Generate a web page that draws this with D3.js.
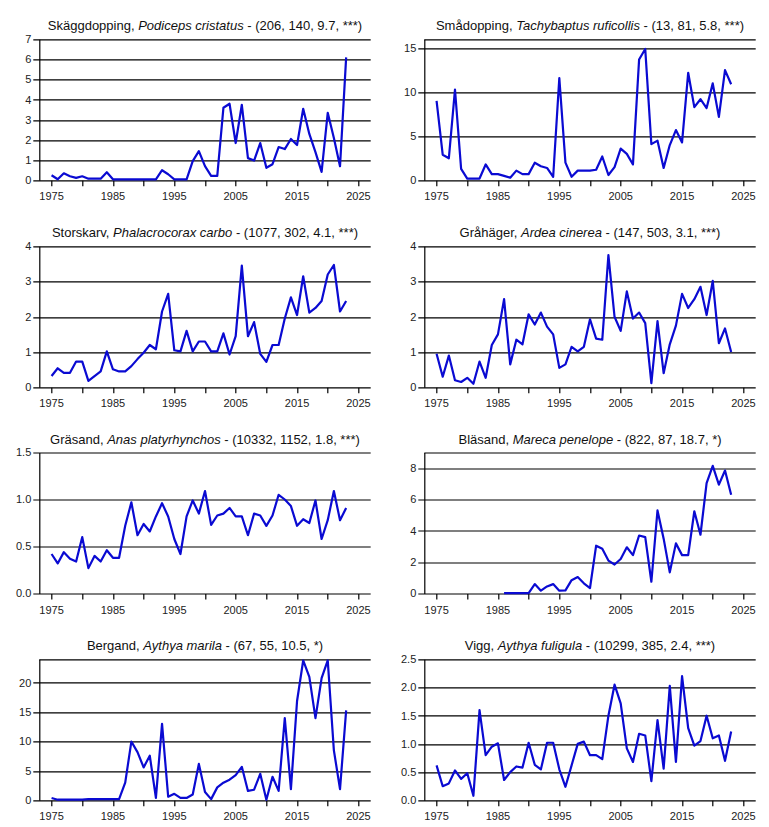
<!DOCTYPE html>
<html>
<head>
<meta charset="utf-8">
<script src="https://cdn.jsdelivr.net/npm/d3@7"></script>
<style>
  html, body { margin: 0; padding: 0; background: #fff; }
  svg { display: block; font-family: "Liberation Sans", Arial, sans-serif; }
</style>
</head>
<body>
<svg id="chart" width="769" height="827"></svg>
<script>
// ---------- data ----------
const years = d3.range(1975, 2024);

const swedishNames = ["Skäggdopping", "Smådopping", "Storskarv", "Gråhäger", "Gräsand", "Bläsand", "Bergand", "Vigg"];
const latinNames = ["Podiceps cristatus", "Tachybaptus ruficollis", "Phalacrocorax carbo", "Ardea cinerea",
                    "Anas platyrhynchos", "Mareca penelope", "Aythya marila", "Aythya fuligula"];
const statTexts = ["(206, 140, 9.7, ***)", "(13, 81, 5.8, ***)", "(1077, 302, 4.1, ***)", "(147, 503, 3.1, ***)",
                   "(10332, 1152, 1.8, ***)", "(822, 87, 18.7, *)", "(67, 55, 10.5, *)", "(10299, 385, 2.4, ***)"];

const yMax = [7, 16, 4, 4, 1.5, 9, 24, 2.5];
const yTicks = [
  [0, 1, 2, 3, 4, 5, 6, 7],
  [0, 5, 10, 15],
  [0, 1, 2, 3, 4],
  [0, 1, 2, 3, 4],
  [0, 0.5, 1.0, 1.5],
  [0, 2, 4, 6, 8],
  [0, 5, 10, 15, 20],
  [0, 0.5, 1.0, 1.5, 2.0, 2.5]
];
const yTickFormat = ["d", "d", "d", "d", ".1f", "d", "d", ".1f"];
const xTickLabels = [1975, 1985, 1995, 2005, 2015, 2025];
const xTickMarks = d3.range(1975, 2026, 5);

const skaggdopping = [0.25, 0.05, 0.35, 0.2, 0.12, 0.2, 0.08, 0.08, 0.08, 0.4,
  0.05, 0.05, 0.05, 0.05, 0.05, 0.05, 0.05, 0.05, 0.5, 0.3,
  0.05, 0.05, 0.05, 0.95, 1.45, 0.7, 0.22, 0.22, 3.6, 3.8,
  1.85, 3.75, 1.1, 0.98, 1.85, 0.62, 0.8, 1.65, 1.55, 2.05,
  1.75, 3.55, 2.3, 1.4, 0.42, 3.35, 2.1, 0.7, 6.1];

const smadopping = [9.0, 2.9, 2.5, 10.3, 1.3, 0.2, 0.2, 0.2, 1.8, 0.7,
  0.7, 0.5, 0.3, 1.1, 0.7, 0.7, 2.0, 1.6, 1.4, 0.4,
  11.6, 2.0, 0.4, 1.1, 1.1, 1.1, 1.2, 2.7, 0.6, 1.5,
  3.6, 3.0, 1.8, 13.7, 14.9, 4.1, 4.5, 1.4, 4.0, 5.7,
  4.3, 12.2, 8.3, 9.2, 8.2, 11.0, 7.2, 12.5, 10.9];

const storskarv = [0.32, 0.54, 0.41, 0.41, 0.73, 0.73, 0.18, 0.32, 0.45, 1.02,
  0.51, 0.45, 0.45, 0.6, 0.8, 0.98, 1.2, 1.08, 2.15, 2.65,
  1.05, 1.02, 1.6, 1.02, 1.3, 1.3, 1.02, 1.02, 1.53, 0.93,
  1.45, 3.45, 1.45, 1.85, 0.95, 0.72, 1.2, 1.2, 1.95, 2.55,
  2.05, 3.15, 2.12, 2.25, 2.45, 3.2, 3.47, 2.15, 2.45];

const grahager = [0.95, 0.3, 0.9, 0.2, 0.15, 0.27, 0.1, 0.73, 0.27, 1.2,
  1.5, 2.5, 0.65, 1.35, 1.22, 2.07, 1.78, 2.12, 1.72, 1.5,
  0.55, 0.65, 1.15, 1.02, 1.15, 1.93, 1.38, 1.35, 3.75, 2.0,
  1.6, 2.72, 1.95, 2.12, 1.82, 0.12, 1.88, 0.4, 1.22, 1.75,
  2.65, 2.25, 2.5, 2.85, 2.05, 3.02, 1.25, 1.67, 1.0];

const grasand = [0.42, 0.32, 0.44, 0.37, 0.34, 0.6, 0.27, 0.4, 0.34, 0.46,
  0.38, 0.38, 0.72, 0.97, 0.62, 0.74, 0.66, 0.82, 0.96, 0.82,
  0.58, 0.42, 0.82, 0.99, 0.85, 1.09, 0.73, 0.83, 0.85, 0.91,
  0.82, 0.82, 0.62, 0.85, 0.83, 0.72, 0.83, 1.05, 1.0, 0.93,
  0.72, 0.79, 0.75, 0.99, 0.58, 0.78, 1.09, 0.78, 0.91];

const blasand = [null, null, null, null, null, null, null, null, null, null,
  null, 0.03, 0.03, 0.03, 0.03, 0.03, 0.6, 0.18, 0.45, 0.6,
  0.18, 0.2, 0.85, 1.05, 0.65, 0.35, 3.05, 2.85, 2.1, 1.85,
  2.2, 2.95, 2.45, 3.7, 3.6, 0.75, 5.3, 3.5, 1.35, 3.2,
  2.45, 2.45, 5.25, 3.75, 7.05, 8.15, 6.95, 7.85, 6.3];

const bergand = [0.4, 0.1, 0.1, 0.1, 0.1, 0.1, 0.2, 0.2, 0.2, 0.2,
  0.2, 0.2, 3.0, 10.0, 8.2, 5.6, 7.6, 0.4, 13.0, 0.6,
  1.1, 0.4, 0.4, 1.0, 6.2, 1.4, 0.2, 2.2, 3.0, 3.5,
  4.3, 5.7, 1.6, 1.8, 4.5, 0.1, 4.0, 1.6, 14.0, 1.9,
  16.9, 23.8, 21.0, 14.0, 20.8, 23.8, 8.5, 1.9, 15.3];

const vigg = [0.62, 0.25, 0.3, 0.53, 0.38, 0.48, 0.08, 1.6, 0.8, 0.95,
  1.01, 0.36, 0.5, 0.6, 0.58, 1.02, 0.63, 0.55, 1.02, 1.02,
  0.55, 0.24, 0.62, 1.0, 1.04, 0.8, 0.8, 0.73, 1.5, 2.05,
  1.72, 0.92, 0.68, 1.18, 1.15, 0.34, 1.42, 0.56, 2.03, 0.68,
  2.2, 1.28, 0.97, 1.05, 1.5, 1.1, 1.15, 0.7, 1.22];

const seriesList = [skaggdopping, smadopping, storskarv, grahager, grasand, blasand, bergand, vigg];

// ---------- layout ----------
const svg = d3.select("#chart");
const colLeft = [39.3, 424.3];
const rowTop = [39.3, 246.3, 452.5, 659.3];
const plotW = 331.4;
const plotH = 141;
const lineColor = "#0a0ad2";

seriesList.forEach((values, i) => {
  const col = i % 2, row = Math.floor(i / 2);
  const g = svg.append("g")
    .attr("transform", `translate(${colLeft[col]},${rowTop[row]})`);

  const x = d3.scaleLinear().domain([1973, 2027]).range([0, plotW]);
  const y = d3.scaleLinear().domain([0, yMax[i]]).range([plotH, 0]);

  // horizontal gridlines (ticks) + top border
  const gridVals = yTicks[i].slice();
  if (gridVals[gridVals.length - 1] !== yMax[i]) gridVals.push(yMax[i]);
  g.selectAll("line.grid").data(gridVals).enter().append("line")
    .attr("class", "grid")
    .attr("x1", d => (yTicks[i].includes(d) ? -6 : 0))
    .attr("x2", plotW)
    .attr("y1", d => Math.round(y(d)) + 0.5)
    .attr("y2", d => Math.round(y(d)) + 0.5)
    .attr("stroke", "#000").attr("stroke-width", 1.2);

  // y axis line
  g.append("line")
    .attr("x1", 0.5).attr("x2", 0.5)
    .attr("y1", Math.round(y(yMax[i])) + 0.5).attr("y2", Math.round(y(0)) + 0.5)
    .attr("stroke", "#000").attr("stroke-width", 1.2);

  // y tick labels
  const fmt = d3.format(yTickFormat[i]);
  g.selectAll("text.ylab").data(yTicks[i]).enter().append("text")
    .attr("class", "ylab")
    .attr("x", -8)
    .attr("y", d => y(d))
    .attr("dy", "0.35em")
    .attr("text-anchor", "end")
    .attr("font-size", "11px")
    .attr("fill", "#222")
    .text(d => fmt(d));

  // x ticks
  g.selectAll("line.xtick").data(xTickMarks).enter().append("line")
    .attr("class", "xtick")
    .attr("x1", d => Math.round(x(d)) + 0.5).attr("x2", d => Math.round(x(d)) + 0.5)
    .attr("y1", Math.round(plotH) + 0.5).attr("y2", plotH + 6)
    .attr("stroke", "#000").attr("stroke-width", 1.2);

  g.selectAll("text.xlab").data(xTickLabels).enter().append("text")
    .attr("class", "xlab")
    .attr("x", d => x(d))
    .attr("y", plotH + 20)
    .attr("text-anchor", "middle")
    .attr("font-size", "11px")
    .attr("fill", "#222")
    .text(d => d);

  // data line
  const line = d3.line()
    .defined(d => d[1] !== null)
    .x(d => x(d[0]))
    .y(d => y(d[1]));
  g.append("path")
    .datum(years.map((yr, k) => [yr, values[k]]))
    .attr("d", line)
    .attr("fill", "none")
    .attr("stroke", lineColor)
    .attr("stroke-width", 2.2)
    .attr("stroke-linejoin", "round");

  // title
  const t = g.append("text")
    .attr("x", plotW / 2)
    .attr("y", -9)
    .attr("text-anchor", "middle")
    .attr("font-size", "13px")
    .attr("fill", "#111");
  t.append("tspan").text(swedishNames[i] + ", ");
  t.append("tspan").attr("font-style", "italic").text(latinNames[i]);
  t.append("tspan").text(" - " + statTexts[i]);
});
</script>
</body>
</html>
